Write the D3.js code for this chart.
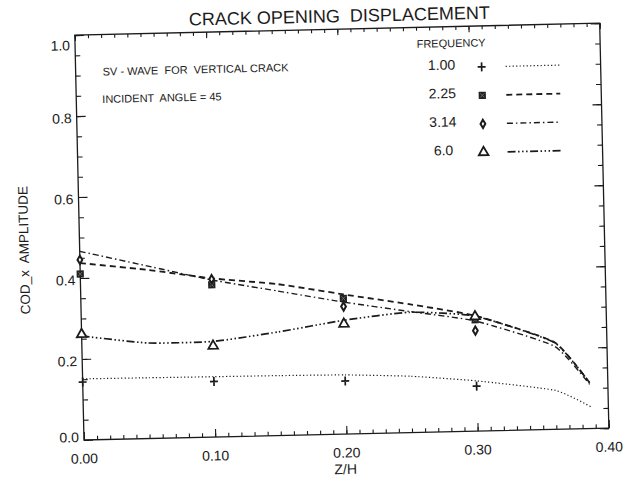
<!DOCTYPE html>
<html>
<head>
<meta charset="utf-8">
<script src="https://cdn.jsdelivr.net/npm/d3@7"></script>
<style>
  body { margin: 0; background: #fff; }
  text { font-family: "Liberation Sans", Arial, sans-serif; fill: #1b1b1b; }
</style>
</head>
<body>
<div id="chart-root"></div>
<script>
// values (Z/H vs COD_x amplitude)
const zh = [0, 0.05, 0.10, 0.15, 0.20, 0.25, 0.30, 0.36, 0.387]
const cod100 = [0.151, 0.150, 0.149, 0.148, 0.146, 0.139, 0.124, 0.096, 0.053]
const cod225 = [0.437, 0.417, 0.392, 0.374, 0.345, 0.317, 0.285, 0.215, 0.109]
const cod314 = [0.466, 0.427, 0.388, 0.357, 0.326, 0.299, 0.272, 0.205, 0.105]
const cod600 = [0.257, 0.236, 0.236, 0.256, 0.281, 0.297, 0.284, 0.214, 0.109]

// discrete points (symbols)
const markZh = [0, 0.10, 0.20, 0.30]
const mark100 = [0.143, 0.137, 0.131, 0.111]
const mark225 = [0.410, 0.376, 0.335, 0.275]
const mark314 = [0.445, 0.390, 0.315, 0.248]
const mark600 = [0.261, 0.225, 0.272, 0.283]

const frequencies = ["1.00", "2.25", "3.14", "6.0"]
const xTickValues = [0, 0.1, 0.2, 0.3, 0.4]
const xTickLabels = ["0.00", "0.10", "0.20", "0.30", "0.40"]
const yTickValues = [0, 0.2, 0.4, 0.6, 0.8, 1.0]
const yTickLabels = ["0.0", "0.2", "0.4", "0.6", "0.8", "1.0"]

const series = [
  {freq: frequencies[0], curve: cod100, marks: mark100, symbol: "plus", dash: "1.2,2.3", width: 1.2},
  {freq: frequencies[1], curve: cod225, marks: mark225, symbol: "square", dash: "6,4", width: 1.8},
  {freq: frequencies[2], curve: cod314, marks: mark314, symbol: "diamond", dash: "6,3,1.5,3", width: 1.4},
  {freq: frequencies[3], curve: cod600, marks: mark600, symbol: "triangle", dash: "8,2.5,1.5,2.5,1.5,2.5,1.5,2.5", width: 1.7},
]

const width = 627, height = 480
const frame = {left: 84, right: 609, top: 35, bottom: 440}

const svg = d3.select("#chart-root")
  .append("svg")
    .attr("width", width)
    .attr("height", height)

// the scan is tilted a little, so the whole sheet is turned
const g = svg.append("g")
  .attr("transform", `rotate(-1.3 ${frame.left} ${frame.bottom})`)

const x = d3.scaleLinear()
  .domain([0, 0.4])
  .range([frame.left, frame.right])

const y = d3.scaleLinear()
  .domain([0, 1])
  .range([frame.bottom, frame.top])

// Title
g.append("text")
  .attr("x", 349)
  .attr("y", 28)
  .attr("text-anchor", "middle")
  .attr("font-size", 18)
  .attr("xml:space", "preserve")
  .text("CRACK OPENING  DISPLACEMENT")

// Ticks (all pointing inward)
function tickAxis(gen, tx, ty) {
  const a = g.append("g")
    .attr("transform", `translate(${tx},${ty})`)
    .call(gen)
  a.select(".domain").remove()
  a.selectAll("line").attr("stroke", "#1b1b1b").attr("stroke-width", 1.1)
  a.selectAll("text").remove()
  return a
}

const minorX = x.ticks(40)
const minorY = y.ticks(20)

tickAxis(d3.axisBottom(x).tickValues(minorX).tickSize(-4), 0, frame.bottom)
tickAxis(d3.axisBottom(x).tickValues(xTickValues).tickSize(-8), 0, frame.bottom)
tickAxis(d3.axisTop(x).tickValues(minorX).tickSize(-3.5), 0, frame.top)
tickAxis(d3.axisTop(x).tickValues(xTickValues).tickSize(-6), 0, frame.top)
tickAxis(d3.axisLeft(y).tickValues(minorY).tickSize(-5), frame.left, 0)
tickAxis(d3.axisLeft(y).tickValues(yTickValues).tickSize(-9), frame.left, 0)
tickAxis(d3.axisRight(y).tickValues(minorY).tickSize(-5), frame.right, 0)
tickAxis(d3.axisRight(y).tickValues(yTickValues).tickSize(-9), frame.right, 0)

// Frame
g.append("rect")
  .attr("x", frame.left)
  .attr("y", frame.top)
  .attr("width", frame.right - frame.left)
  .attr("height", frame.bottom - frame.top)
  .attr("fill", "none")
  .attr("stroke", "#1b1b1b")
  .attr("stroke-width", 1.3)

// Tick labels
g.selectAll("text.xlab")
  .data(xTickValues)
  .enter()
  .append("text")
  .classed("xlab", true)
  .attr("x", d => x(d))
  .attr("y", frame.bottom + 23.5)
  .attr("text-anchor", "middle")
  .attr("font-size", 14)
  .text((d, i) => xTickLabels[i])

g.selectAll("text.ylab")
  .data(yTickValues)
  .enter()
  .append("text")
  .classed("ylab", true)
  .attr("x", frame.left - 5)
  .attr("y", d => y(d) + (d === 1 ? 10 : d === 0 ? -3 : 2) + 5)
  .attr("text-anchor", "end")
  .attr("font-size", 14)
  .text((d, i) => yTickLabels[i])

// Axis titles
g.append("text")
  .attr("x", 345)
  .attr("y", 480)
  .attr("text-anchor", "middle")
  .attr("font-size", 14)
  .text("Z/H")

g.append("text")
  .attr("transform", "translate(33,249) rotate(-90)")
  .attr("text-anchor", "middle")
  .attr("font-size", 13.5)
  .attr("xml:space", "preserve")
  .text("COD_x  AMPLITUDE")

// Annotations
g.append("text")
  .attr("x", 111)
  .attr("y", 76)
  .attr("font-size", 11)
  .attr("xml:space", "preserve")
  .text("SV - WAVE  FOR  VERTICAL CRACK")

g.append("text")
  .attr("x", 110)
  .attr("y", 103.5)
  .attr("font-size", 11)
  .attr("xml:space", "preserve")
  .text("INCIDENT  ANGLE = 45")

// Curves
const line = d3.line()
  .x((d, i) => x(zh[i]))
  .y(d => y(d))
  .curve(d3.curveCardinal.tension(0.5))

g.selectAll("path.cod")
  .data(series)
  .enter()
  .append("path")
  .classed("cod", true)
  .attr("fill", "none")
  .attr("stroke", "#1b1b1b")
  .attr("stroke-width", d => d.width)
  .attr("stroke-dasharray", d => d.dash)
  .attr("d", d => line(d.curve))

// Symbols
function drawSymbol(sel, kind) {
  if (kind === "plus") {
    sel.append("path")
      .attr("d", "M-4,0H4M0,-4.5V4.5")
      .attr("stroke", "#1b1b1b")
      .attr("stroke-width", 1.7)
  } else if (kind === "square") {
    sel.append("path")
      .attr("d", d3.symbol(d3.symbolSquare, 52)())
      .attr("fill", "#222")
    sel.append("path")
      .attr("d", "M-2,-2L2,2M-2,2L2,-2")
      .attr("stroke", "#777")
      .attr("stroke-width", 0.8)
  } else if (kind === "diamond") {
    sel.append("path")
      .attr("d", d3.symbol(d3.symbolDiamond, 20)())
      .attr("fill", "#fff")
      .attr("stroke", "#1b1b1b")
      .attr("stroke-width", 2)
  } else {
    sel.append("path")
      .attr("d", d3.symbol(d3.symbolTriangle, 40)())
      .attr("fill", "#fff")
      .attr("stroke", "#1b1b1b")
      .attr("stroke-width", 1.8)
  }
}

series.forEach(s => {
  s.marks.forEach((v, i) => {
    const m = g.append("g")
      .attr("transform", `translate(${x(markZh[i])},${y(v)})`)
    drawSymbol(m, s.symbol)
  })
})

// Legend
const legend = g.append("g")

legend.append("text")
  .attr("x", 460)
  .attr("y", 55.5)
  .attr("text-anchor", "middle")
  .attr("font-size", 11)
  .text("FREQUENCY")

series.forEach((s, i) => {
  const ry = 76 + i * 28.5
  legend.append("text")
    .attr("x", 450)
    .attr("y", ry + 2)
    .attr("text-anchor", "middle")
    .attr("font-size", 14)
    .text(s.freq)
  const m = legend.append("g")
    .attr("transform", `translate(490,${ry})`)
  drawSymbol(m, s.symbol)
  legend.append("line")
    .attr("x1", 514)
    .attr("x2", 568)
    .attr("y1", ry)
    .attr("y2", ry)
    .attr("stroke", "#1b1b1b")
    .attr("stroke-width", s.width)
    .attr("stroke-dasharray", s.dash)
})
</script>
</body>
</html>
